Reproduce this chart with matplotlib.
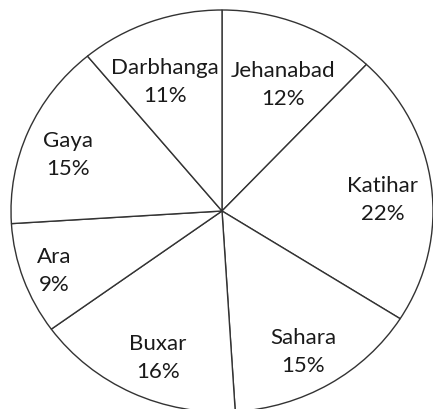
import matplotlib.pyplot as plt

# district shares, clockwise from 12 o'clock
districts = ['Jehanabad', 'Katihar', 'Sahara', 'Buxar', 'Ara', 'Gaya', 'Darbhanga']
shares = [12, 22, 15, 16, 9, 15, 11]

# label centres in axes data units (pie radius = 1)
label_xy = [(0.291, 0.632), (0.763, 0.060), (0.384, -0.697), (-0.303, -0.726),
            (-0.796, -0.294), (-0.730, 0.284), (-0.270, 0.647)]

W, H = 433, 410
fig = plt.figure(figsize=(W / 100, H / 100), dpi=100)

# pie centre and radii in pixels (slightly wider than tall)
cx, cy, rx, ry = 222, 212, 211, 201
pad = 1.1
ax = fig.add_axes([(cx - rx * pad) / W, (H - cy - ry * pad) / H,
                   2 * rx * pad / W, 2 * ry * pad / H])

ax.pie(shares, startangle=90, counterclock=False, radius=1,
       colors=['white'] * len(shares),
       wedgeprops=dict(edgecolor='#333333', linewidth=1.0))
ax.set_aspect('auto')
ax.set_xlim(-pad, pad)
ax.set_ylim(-pad, pad)
ax.axis('off')

for name, val, (x, y) in zip(districts, shares, label_xy):
    ax.text(x, y, f'{name}\n{val}%', ha='center', va='center',
            fontsize=16, family='Lato', color='#1a1a1a', linespacing=1.55)

fig.savefig('out.png', dpi=100)
